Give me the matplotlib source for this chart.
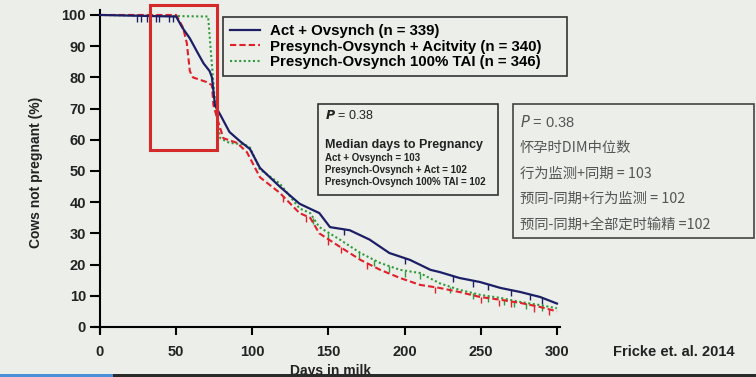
import numpy as np
import matplotlib.pyplot as plt
from matplotlib.patches import Rectangle

plt.rcParams['font.family'] = ['Liberation Sans', 'DejaVu Sans']
CJK = ['Noto Sans CJK SC', 'DejaVu Sans']

# Kaplan-Meier curves (days in milk, % not pregnant)
days_act = [0, 50, 54, 59, 64, 68, 72, 73.5, 75.5, 79, 85, 92, 98.5, 105, 118,
            131, 144, 151, 164, 177, 190, 203.5, 217, 223, 236, 249.5, 263, 276, 289, 300]
pct_act = [100, 99.5, 96, 92.5, 88, 84.5, 82, 80, 71, 68, 62.5, 59.5, 57, 51, 45,
           39.5, 36.5, 32, 31, 28, 23.7, 21.5, 18.3, 17.6, 15.7, 14.4, 12.5, 11.2, 9.6, 7.5]

days_pre_act = [0, 50, 54.5, 57, 59, 61, 70, 73.5, 74.5, 77.5, 81, 90, 96.5, 105, 118,
                131, 138, 144, 157.5, 171, 184, 197, 210, 223, 236, 249.5, 263, 276, 289, 300]
pct_pre_act = [100, 100, 96, 91, 82, 80, 78.5, 77.5, 71, 66, 60.5, 59, 56, 48, 43,
               36.5, 35, 30, 25.7, 21.5, 18.3, 15.7, 13.5, 12.5, 11.2, 9.6, 8.7, 7.7, 6.4, 5]

days_tai = [0, 71, 73.5, 75, 77, 79, 85, 95, 98.5, 105, 118, 131, 138, 144, 157.5,
            171, 184, 197, 210, 223, 236, 249.5, 263, 276, 289, 300]
pct_tai = [100, 99.5, 84, 75, 66, 60.5, 59, 58.5, 57.5, 50.5, 46, 38, 36.5, 32, 28,
           23.7, 20.5, 18.3, 17.3, 14, 11.9, 10.3, 9.3, 8, 7, 6]

# censored cows (small tick marks)
cens_act = [24, 27, 31, 37, 39, 45, 48, 160, 200, 232, 245, 255, 270, 282, 290]
cens_pre_act = [120, 135, 150, 158, 175, 220, 250, 262, 270, 285, 295]
cens_tai = [140, 150, 170, 180, 190, 200, 210, 230, 245, 255, 265, 272, 280, 290]

labels = ['Act + Ovsynch (n = 339)',
          'Presynch-Ovsynch + Acitvity (n = 340)',
          'Presynch-Ovsynch 100% TAI (n = 346)']

x_ticks = [0, 50, 100, 150, 200, 250, 300]
y_ticks = [0, 10, 20, 30, 40, 50, 60, 70, 80, 90, 100]

BG = '#eceee9'
W, H = 756, 377

fig = plt.figure(figsize=(7.56, 3.77), dpi=100, facecolor=BG)
ax = fig.add_axes([95.4 / W, 1 - 333.2 / H, 464.6 / W, 322.9 / H])
ax.set_facecolor(BG)

ax.plot(days_tai, pct_tai, color='#2f9a3c', lw=1.5, ls=(0, (1, 1.2)), label=labels[2], zorder=3)
ax.plot(days_pre_act, pct_pre_act, color='#e0202a', lw=1.5, ls=(0, (3, 1.5)), label=labels[1], zorder=4)
ax.plot(days_act, pct_act, color='#1c1f66', lw=1.6, label=labels[0], zorder=5)

ax.plot(cens_tai, np.interp(cens_tai, days_tai, pct_tai), ls='none', marker=3,
        ms=4, mew=1, color='#2f9a3c', zorder=3)
ax.plot(cens_pre_act, np.interp(cens_pre_act, days_pre_act, pct_pre_act), ls='none',
        marker=3, ms=4, mew=1, color='#e0202a', zorder=4)
ax.plot(cens_act, np.interp(cens_act, days_act, pct_act), ls='none', marker=3,
        ms=4, mew=1, color='#1c1f66', zorder=5)

ax.set_xlim(-3, 302)
ax.set_ylim(-2, 101.5)
for s in ['top', 'right']:
    ax.spines[s].set_visible(False)
ax.spines['left'].set_position(('data', 0))
ax.spines['bottom'].set_position(('data', 0))
for s in ['left', 'bottom']:
    ax.spines[s].set_linewidth(1.5)
ax.set_xticks(x_ticks)
ax.set_yticks(y_ticks)
ax.tick_params(axis='y', direction='out', length=7, width=1.5, pad=3, labelsize=10.5)
ax.tick_params(axis='x', direction='out', length=6, width=1.5, pad=7, labelsize=10.5)
for t in ax.get_xticklabels() + ax.get_yticklabels():
    t.set_fontweight('bold')
    t.set_color('#222222')

fig.text(36 / W, 1 - 172 / H, 'Cows not pregnant (%)', rotation=90, ha='center',
         va='center', fontsize=10, fontweight='bold', color='#222222')
fig.text(331 / W, 1 - 371 / H, 'Days in milk', ha='center', va='center',
         fontsize=10, fontweight='bold', color='#222222')
fig.text(674 / W, 1 - 352 / H, 'Fricke et. al. 2014', ha='center', va='center',
         fontsize=10.5, fontweight='bold', color='#222222')

handles, labs = ax.get_legend_handles_labels()
order = [2, 1, 0]
leg = ax.legend([handles[i] for i in order], [labs[i] for i in order],
                loc='upper left', bbox_to_anchor=(223 / W, 1 - 74 / H, 344 / W, 57 / H),
                bbox_transform=fig.transFigure, borderaxespad=0, mode='expand',
                prop={'weight': 'bold', 'size': 10.8}, handlelength=2.0,
                handletextpad=0.7, labelspacing=0.12, borderpad=0.45,
                fancybox=False, framealpha=1, facecolor=BG, edgecolor='#333333')
leg.get_frame().set_linewidth(1.2)

# P value box (English)
fig.add_artist(Rectangle((318 / W, 1 - 195 / H), 180 / W, 91 / H, transform=fig.transFigure,
                         fill=False, edgecolor='#333333', lw=1.2))
fig.text(325 / W, 1 - 115 / H, r'$\boldsymbol{P}$ = 0.38', fontsize=9, va='center',
         color='#222222')
fig.text(325 / W, 1 - 145 / H, 'Median days to Pregnancy', fontsize=9,
         fontweight='bold', va='center', color='#222222')
for i, s in enumerate(['Act + Ovsynch = 103', 'Presynch-Ovsynch + Act = 102',
                       'Presynch-Ovsynch 100% TAI = 102']):
    fig.text(325 / W, 1 - (158 + 12 * i) / H, s, fontsize=7, fontweight='bold',
             va='center', color='#222222')

# P value box (Chinese)
fig.add_artist(Rectangle((513 / W, 1 - 238 / H), 241 / W, 134 / H, transform=fig.transFigure,
                         fill=False, edgecolor='#444444', lw=1.2))
cn_lines = ['怀孕时DIM中位数', '行为监测+同期 = 103', '预同-同期+行为监测 = 102',
            '预同-同期+全部定时输精 =102']
fig.text(520 / W, 1 - 122 / H, '$P$ = 0.38', fontsize=10.5, va='center', color='#555555')
for i, s in enumerate(cn_lines):
    fig.text(520 / W, 1 - (148 + 25.5 * i) / H, s, fontsize=10.3, va='center',
             color='#555555', family=CJK)

# red highlight frame
fig.add_artist(Rectangle((150 / W, 1 - 150 / H), 67 / W, 145 / H, transform=fig.transFigure,
                         fill=False, edgecolor='#d42a2a', lw=2.2, zorder=10))

# dark strip at the bottom of the frame
fig.add_artist(Rectangle((0, 0), 1, 3.5 / H, transform=fig.transFigure,
                         facecolor='#2a2a2a', edgecolor='none', zorder=20))
fig.add_artist(Rectangle((0, 0), 113 / W, 3.5 / H, transform=fig.transFigure,
                         facecolor='#4a90d9', edgecolor='none', zorder=21))

fig.savefig('out.png', dpi=100, facecolor=BG)
